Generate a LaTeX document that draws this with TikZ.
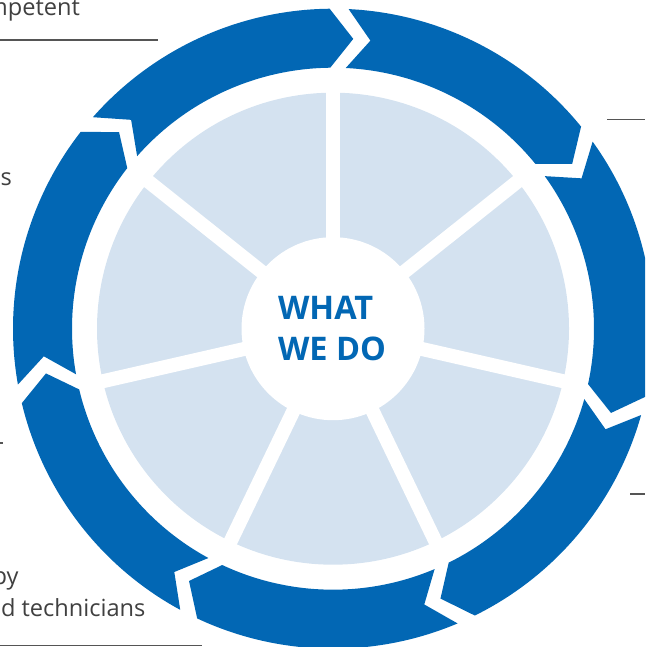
\documentclass[tikz,border=0pt]{standalone}
\usepackage{fontspec}
\setmainfont{Open Sans}
\definecolor{ringblue}{RGB}{2,103,180}
\definecolor{paleblue}{RGB}{212,226,240}
\definecolor{leadgray}{RGB}{85,85,85}
\definecolor{textgray}{RGB}{64,64,64}
\tikzset{every picture/.style={line width=1pt}}
\tikzset{
  sidetext/.style={text=textgray, inner sep=0pt, outer sep=0pt,
                   font=\fontsize{23.6}{31}\selectfont},
  hubtext/.style={text=ringblue, inner sep=0pt, outer sep=0pt,
                  anchor=base west, font=\bfseries\fontsize{32.5}{42}\selectfont},
  lead/.style={draw=leadgray, line width=1.2pt},
}
\def\n{7}
\def\rout{320}  % outer edge of the arrow ring
\def\rin{261}   % inner edge of the arrow ring
\def\rmid{290.5}
\def\rdisc{236}
\def\rhub{91.5}

\begin{document}
\begin{tikzpicture}[x=1pt,y=1pt]
  \clip (0,0) rectangle (645,647);
  % leader lines and cut text at the edges
  \node[sidetext, anchor=base east] (competent) at (80,631.3) {mpetent};
  \node[sidetext, anchor=base east] (s) at (12,461.5) {s};
  \node[sidetext, anchor=base east] (by) at (18.5,62) {py};
  \node[sidetext, anchor=base east] (technicians) at (145.5,30.3) {d technicians};
  \draw[lead] (0,607) -- (158,607);
  \draw[lead] (0,204) -- (3,204);
  \draw[lead] (0,1.3) -- (202,1.3);
  \draw[lead] (607,527.7) -- (645,527.7);
  \draw[lead] (630,153) -- (645,153);
  \begin{scope}[shift={(333,318.3)}]
    % arrow ring, one piece per step
    \foreach \k in {0,...,\the\numexpr\n-1\relax} {
      \pgfmathsetmacro\as{88.9-\k*360/\n-1.7}
      \pgfmathsetmacro\ae{88.9-(\k+1)*360/\n+1.7}
      \fill[ringblue] (\as:\rout) arc[start angle=\as, end angle=\ae, radius=\rout]
        -- ({\ae-4.6}:\rmid) -- (\ae:\rin)
        arc[start angle=\ae, end angle=\as, radius=\rin]
        -- ({\as-4.6}:\rmid) -- cycle;
    };
    % pale sectors
    \fill[paleblue] (0,0) circle[radius=\rdisc];
    \foreach \k in {0,...,\the\numexpr\n-1\relax}
      \draw[white, line width=14pt] (0,0) -- ({90-\k*360/\n}:\rdisc+3);
    \fill[white] (0,0) circle[radius=\rhub];
    \node[hubtext] (what) at (-55,9.4) {WHAT};
    \node[hubtext] (wedo) at (-55,-32.3) {WE DO};
  \end{scope}
\end{tikzpicture}
\end{document}
